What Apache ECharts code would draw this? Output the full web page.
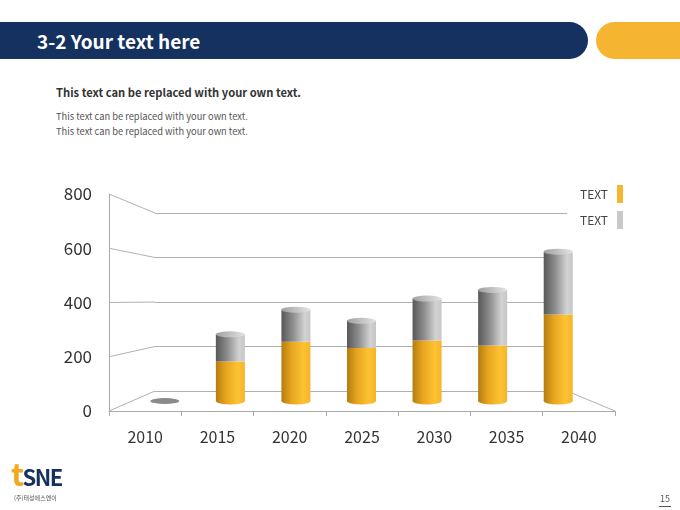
<!DOCTYPE html>
<html>
<head>
<meta charset="utf-8">
<style>
  html, body { margin: 0; padding: 0; width: 680px; height: 510px; background: #fff; overflow: hidden; }
  body { position: relative; font-family: "Noto Sans CJK KR", "Noto Sans", sans-serif; }
  #main { position: absolute; left: 0; top: 0; width: 680px; height: 510px; }
  .bar_navy { position: absolute; left: 0; top: 22px; width: 588px; height: 37px; background: #15315f; border-radius: 0 19px 19px 0; }
  .bar_orange { position: absolute; left: 596px; top: 22px; width: 110px; height: 37px; background: #f6b531; border-radius: 19px 0 0 19px; }
  .title { position: absolute; left: 37px; top: 22px; line-height: 37px; color: #fff; font-size: 19px; font-weight: bold; }
  .sub { position: absolute; left: 56px; top: 84px; font-size: 11.2px; font-weight: bold; color: #333; }
  .line { position: absolute; left: 56px; font-size: 9.3px; color: #555; }
  .logo { position: absolute; left: 11px; top: 456px; font-weight: bold; letter-spacing: -1.5px; line-height: 34px; }
  .logo .t { color: #f2a91f; font-size: 31px; }
  .logo .s { color: #15315f; font-size: 22px; }
  .logo_kr { position: absolute; left: 14px; top: 493px; font-size: 6px; color: #555; }
  .page { position: absolute; left: 659px; top: 492px; font-size: 9px; color: #555; border-bottom: 1px solid #555; padding: 0 1px 1px; }
</style>
</head>
<body>
<div class="bar_navy"></div>
<div class="bar_orange"></div>
<div class="title">3-2 Your text here</div>
<div class="sub">This text can be replaced with your own text.</div>
<div class="line" style="top:109px">This text can be replaced with your own text.</div>
<div class="line" style="top:124px">This text can be replaced with your own text.</div>

<div id="main"></div>

<div class="logo"><span class="t">t</span><span class="s">SNE</span></div>
<div class="logo_kr">(주)태성에스엔이</div>
<div class="page">15</div>

<script src="https://cdn.jsdelivr.net/npm/echarts@6/dist/echarts.min.js"></script>
<script type="text/javascript">
    // 데이터
    var years = ['2010', '2015', '2020', '2025', '2030', '2035', '2040'];
    var orangeValues = [0, 160, 240, 215, 245, 225, 350];
    var greyValues = [0, 110, 130, 110, 170, 225, 255];
    var yTicks = [0, 200, 400, 600, 800];

    var totals = [];
    for (var i = 0; i < years.length; i++) {
        totals.push(orangeValues[i] + greyValues[i]);
    }

    // 원근 느낌: 앞면 / 뒷면 / 막대 중간면
    var front = { left: 109, right: 615, top: 194, bottom: 411 };
    var back = { left: 155, right: 567, top: 213, bottom: 391 };
    var mid = { left: 132, right: 591, top: 203.5, bottom: 401 };

    var barW = 29;

    var orangeGrad = new echarts.graphic.LinearGradient(0, 0, 1, 0, [
        { offset: 0, color: '#b47d0e' },
        { offset: 0.35, color: '#e7a520' },
        { offset: 0.75, color: '#fdc333' },
        { offset: 1, color: '#f4b42a' }
    ]);
    var greyGrad = new echarts.graphic.LinearGradient(0, 0, 1, 0, [
        { offset: 0, color: '#585858' },
        { offset: 0.4, color: '#8e8e8e' },
        { offset: 0.8, color: '#d2d2d2' },
        { offset: 1, color: '#c6c6c6' }
    ]);
    var topGrad = new echarts.graphic.LinearGradient(0, 0, 1, 0, [
        { offset: 0, color: '#a0a0a0' },
        { offset: 1, color: '#e4e4e4' }
    ]);

    var topData = totals.map(function (v) {
        return v === 0 ? { value: v, itemStyle: { color: '#8a8a8a' } } : v;
    });
    var bottomData = orangeValues.map(function (v, i) {
        return totals[i] === 0 ? { value: 0, itemStyle: { color: 'rgba(0,0,0,0)' } } : 0;
    });

    var myChart = echarts.init(document.getElementById('main'));

    function gridOf(r) {
        return { left: r.left, right: 680 - r.right, top: r.top, bottom: 510 - r.bottom, containLabel: false };
    }

    var option = {
        animation: false,
        textStyle: { fontFamily: '"Noto Sans CJK KR", "Noto Sans", sans-serif' },
        legend: {
            data: [
                { name: 'TEXT_A', itemStyle: { color: '#f6b52e' } },
                { name: 'TEXT_B', itemStyle: { color: '#c8c8c8' } }
            ],
            orient: 'vertical',
            right: 52,
            top: 180,
            align: 'right',
            icon: 'rect',
            itemWidth: 6,
            itemHeight: 18,
            itemGap: 8,
            formatter: function () { return 'TEXT'; },
            textStyle: { fontSize: 12, color: '#444', padding: [0, 4, 0, 0] }
        },
        grid: [gridOf(back), gridOf(front), gridOf(mid)],
        xAxis: [
            { gridIndex: 0, type: 'category', data: years, show: false },
            {
                gridIndex: 1, type: 'category', data: years,
                axisLine: { lineStyle: { color: '#aaa' } },
                axisTick: { show: true, length: 5, lineStyle: { color: '#aaa' } },
                axisLabel: { fontSize: 16, color: '#333', margin: 18 }
            },
            { gridIndex: 2, type: 'category', data: years, show: false }
        ],
        yAxis: [
            {
                gridIndex: 0, type: 'value', min: 0, max: 800, interval: 200,
                axisLine: { show: false }, axisTick: { show: false }, axisLabel: { show: false },
                splitLine: { show: true, lineStyle: { color: '#b0b0b0' } }
            },
            {
                gridIndex: 1, type: 'value', min: 0, max: 800, interval: 200,
                axisLine: { show: true, lineStyle: { color: '#aaa' } }, axisTick: { show: false },
                axisLabel: { fontSize: 17, color: '#333', margin: 17 },
                splitLine: { show: false }
            },
            { gridIndex: 2, type: 'value', min: 0, max: 800, show: false, splitLine: { show: false } }
        ],
        series: [
            {
                name: 'TEXT_A', type: 'bar', stack: 'all', xAxisIndex: 2, yAxisIndex: 2,
                barWidth: barW, data: orangeValues, itemStyle: { color: orangeGrad }, z: 3
            },
            {
                name: 'TEXT_B', type: 'bar', stack: 'all', xAxisIndex: 2, yAxisIndex: 2,
                barWidth: barW, data: greyValues, itemStyle: { color: greyGrad }, z: 3
            },
            {
                name: 'bottom', type: 'pictorialBar', xAxisIndex: 2, yAxisIndex: 2,
                symbol: 'circle', symbolSize: [barW, 7], symbolOffset: [0, '50%'],
                data: bottomData, itemStyle: { color: orangeGrad }, z: 2
            },
            {
                name: 'top', type: 'pictorialBar', xAxisIndex: 2, yAxisIndex: 2,
                symbol: 'circle', symbolSize: [barW, 6], symbolPosition: 'end', symbolOffset: [0, '-50%'],
                data: topData, itemStyle: { color: topGrad }, z: 4
            }
        ]
    };
    myChart.setOption(option);

    // 왼쪽 벽 / 바닥 사선
    var lines = [];
    yTicks.forEach(function (v) {
        var yf = myChart.convertToPixel({ yAxisIndex: 1 }, v);
        var yb = myChart.convertToPixel({ yAxisIndex: 0 }, v);
        lines.push({
            type: 'line', silent: true, z: 1,
            shape: { x1: front.left, y1: yf, x2: back.left, y2: yb },
            style: { stroke: '#b0b0b0', lineWidth: 1 }
        });
    });
    lines.push({
        type: 'line', silent: true, z: 1,
        shape: {
            x1: back.right, y1: myChart.convertToPixel({ yAxisIndex: 0 }, 0),
            x2: front.right, y2: myChart.convertToPixel({ yAxisIndex: 1 }, 0)
        },
        style: { stroke: '#b0b0b0', lineWidth: 1 }
    });
    myChart.setOption({ graphic: lines });
</script>
</body>
</html>
